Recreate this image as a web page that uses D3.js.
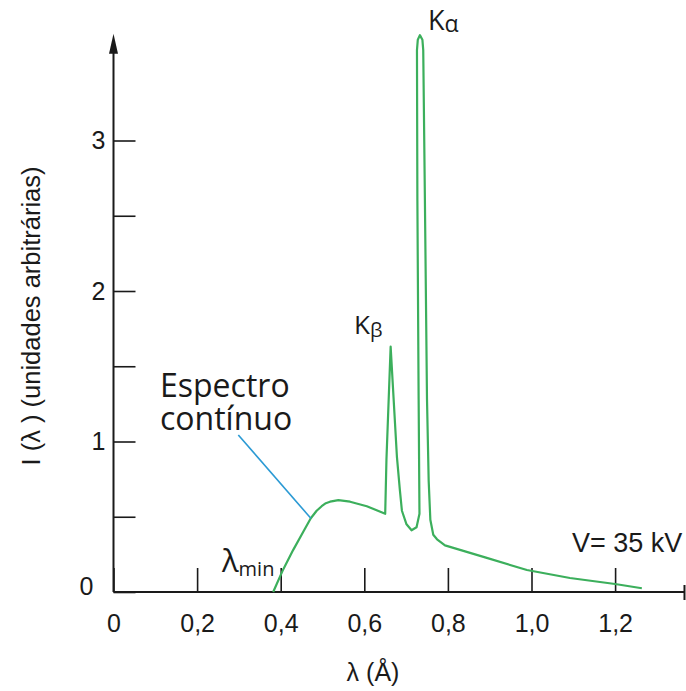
<!DOCTYPE html>
<html>
<head>
<meta charset="utf-8">
<script src="https://cdn.jsdelivr.net/npm/d3@7"></script>
<style>
  body { margin: 0; background: #fff; }
  svg text { font-family: "Liberation Sans", Arial, sans-serif; fill: #1a1a1a; }
  svg .note { font-family: "Open Sans", sans-serif; }
</style>
</head>
<body>
<div id="chart"></div>
<script>
// spectrum: wavelength in Å, intensity in arbitrary units
const lambda = [0.382, 0.406, 0.430, 0.454, 0.472, 0.486, 0.498, 0.508, 0.518, 0.538,
                0.566, 0.606, 0.650, 0.653, 0.663, 0.678, 0.685, 0.690, 0.701, 0.713,
                0.725, 0.732, 0.730, 0.727, 0.726, 0.728, 0.733, 0.739, 0.741, 0.745,
                0.750, 0.754, 0.758, 0.765, 0.774, 0.793, 0.889, 0.989, 1.092, 1.200,
                1.264];
const intensity = [0, 0.15, 0.28, 0.40, 0.49, 0.54, 0.57, 0.59, 0.60, 0.61,
                   0.60, 0.57, 0.52, 0.88, 1.63, 0.90, 0.68, 0.54, 0.45, 0.41,
                   0.43, 0.52, 1.28, 2.60, 3.60, 3.67, 3.70, 3.67, 3.60, 2.60,
                   1.28, 0.74, 0.48, 0.38, 0.35, 0.31, 0.23, 0.146, 0.093, 0.053,
                   0.025];

const xTicks = [0, 0.2, 0.4, 0.6, 0.8, 1.0, 1.2];
const xTickLabels = ["0", "0,2", "0,4", "0,6", "0,8", "1,0", "1,2"];
const yTicks = [0, 0.5, 1, 1.5, 2, 2.5, 3];
const yTickLabels = ["0", "", "1", "", "2", "", "3"];

// leader line of the "Espectro contínuo" note (from label to curve), in data units
const noteFrom = [0.2986, 1.043];
const noteTo = [0.472, 0.49];

const width = 686, height = 691;

const svg = d3.select("#chart")
    .append("svg")
    .attr("width", width)
    .attr("height", height);

const x = d3.scaleLinear()
    .domain([0, 1.366])
    .range([113.5, 113.5 + 1.366 * 418]);

const y = d3.scaleLinear()
    .domain([0, 3.71])
    .range([592, 592 - 3.71 * 150.5]);

const axisColor = "#1a1a1a";

// x axis, ticks pointing up
const gx = svg.append("g")
    .attr("transform", `translate(0,${y(0)})`)
    .call(d3.axisBottom(x)
        .tickValues(xTicks)
        .tickFormat((d, i) => xTickLabels[i])
        .tickSize(-24)
        .tickPadding(22));
gx.select(".domain").remove();
gx.selectAll(".tick line").attr("stroke", axisColor).attr("stroke-width", 1.6);
gx.selectAll(".tick text")
    .attr("font-family", "Liberation Sans, Arial, sans-serif")
    .attr("font-size", 25)
    .attr("fill", axisColor);

// y axis, ticks pointing right
const gy = svg.append("g")
    .attr("transform", `translate(${x(0)},0)`)
    .call(d3.axisLeft(y)
        .tickValues(yTicks)
        .tickFormat((d, i) => yTickLabels[i])
        .tickSize(-22)
        .tickPadding(8));
gy.select(".domain").remove();
gy.selectAll(".tick line").attr("stroke", axisColor).attr("stroke-width", 1.6);
gy.selectAll(".tick text")
    .attr("font-family", "Liberation Sans, Arial, sans-serif")
    .attr("font-size", 25)
    .attr("fill", axisColor);
gy.selectAll(".tick text").filter(d => d === 0).attr("x", -20).attr("dy", "0.1em");

// axis lines
svg.append("line")
    .attr("x1", x(0)).attr("x2", x.range()[1])
    .attr("y1", y(0)).attr("y2", y(0))
    .attr("stroke", axisColor).attr("stroke-width", 2);
svg.append("line")
    .attr("x1", x.range()[1]).attr("x2", x.range()[1])
    .attr("y1", y(0) - 7).attr("y2", y(0) + 8)
    .attr("stroke", axisColor).attr("stroke-width", 2);
svg.append("line")
    .attr("x1", x(0)).attr("x2", x(0))
    .attr("y1", y(0)).attr("y2", y.range()[1] + 10)
    .attr("stroke", axisColor).attr("stroke-width", 2);
// arrow head on y axis
const tipY = y.range()[1];
svg.append("path")
    .attr("d", `M${x(0)},${tipY} L${x(0) - 4.5},${tipY + 20} L${x(0) + 4.5},${tipY + 20} Z`)
    .attr("fill", axisColor);

// axis titles
svg.append("text")
    .attr("x", 373).attr("y", 681)
    .attr("text-anchor", "middle")
    .attr("font-size", 25)
    .text("λ (Å)");

svg.append("text")
    .attr("transform", "translate(40,316) rotate(-90)")
    .attr("text-anchor", "middle")
    .attr("font-size", 25.5)
    .text("I (λ ) (unidades arbitrárias)");

// spectrum
const points = lambda.map((d, i) => [d, intensity[i]]);
svg.append("path")
    .datum(points)
    .attr("fill", "none")
    .attr("stroke", "#3caf5c")
    .attr("stroke-width", 2.2)
    .attr("stroke-linejoin", "round")
    .attr("d", d3.line()
        .x(d => x(d[0]))
        .y(d => y(d[1])));

// leader line
svg.append("line")
    .attr("x1", x(noteFrom[0])).attr("y1", y(noteFrom[1]))
    .attr("x2", x(noteTo[0])).attr("y2", y(noteTo[1]))
    .attr("stroke", "#2b9ad4").attr("stroke-width", 1.6);

// annotations
const note = svg.append("text").attr("class", "note")
    .attr("x", 160).attr("y", 397)
    .attr("font-size", 32);
note.append("tspan").attr("x", 160).text("Espectro");
note.append("tspan").attr("x", 160).attr("dy", 33).text("contínuo");

const lmin = svg.append("text").attr("class", "note")
    .attr("x", 222).attr("y", 572)
    .attr("font-size", 31)
    .text("λ");
lmin.append("tspan")
    .attr("font-size", 20)
    .attr("dy", 4)
    .text("min");

const kb = svg.append("text").attr("class", "note")
    .attr("x", 354).attr("y", 334)
    .attr("font-size", 26)
    .text("K");
kb.append("tspan").attr("font-size", 20).attr("dy", 3).text("β");

const ka = svg.append("text").attr("class", "note")
    .attr("x", 428).attr("y", 30)
    .attr("font-size", 27)
    .text("K");
ka.append("tspan").attr("font-size", 23).attr("dy", 2).text("α");

svg.append("text")
    .attr("x", 572).attr("y", 552)
    .attr("font-size", 27)
    .text("V= 35 kV");
</script>
</body>
</html>
